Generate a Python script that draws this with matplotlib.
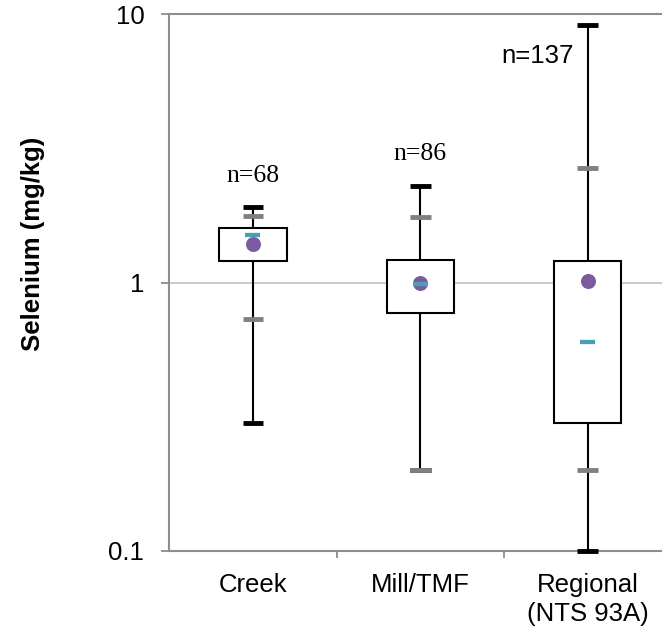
import numpy as np
import matplotlib
matplotlib.use("Agg")
import matplotlib.pyplot as plt
from matplotlib.ticker import NullLocator

plt.rcParams['font.family'] = ['Liberation Sans', 'DejaVu Sans']

# valores (mg/kg)
grupos = ['Creek', 'Mill/TMF', 'Regional\n(NTS 93A)']
minimo = [0.30, 0.20, 0.10]
p10 = [0.735, 0.20, 0.20]
q1 = [1.20, 0.77, 0.30]
mediana = [1.51, 0.985, 0.60]
media = [1.39, 1.00, 1.015]
q3 = [1.60, 1.215, 1.20]
p90 = [1.77, 1.76, 2.67]
maximo = [1.91, 2.30, 9.12]
rotulos_n = ['n=68', 'n=86', 'n=137']
pos_n_x = [0.0, 1.0, 1.70]
pos_n_y = [2.38, 2.87, 6.57]
fonte_n = ['Liberation Serif', 'Liberation Serif', 'Liberation Sans']

cinza_eixo = '#8E8E8E'
cinza_cap = '#808080'
teal = '#4A9FB8'
roxo = '#7A5C9E'

fig = plt.figure(figsize=(6.62, 6.31), dpi=100)
ax = fig.add_axes([169.3/662, 1 - 551/631, 502/662, (551 - 14.3)/631])

x = np.arange(len(grupos))
larg_caixa = 0.403
larg_cap = 0.124
larg_med = 0.09

for i in x:
    ax.vlines(i, minimo[i], maximo[i], color='black', lw=1.5, zorder=2)
    ax.bar(i, q3[i] - q1[i], bottom=q1[i], width=larg_caixa, color='white',
           edgecolor='black', lw=1.5, zorder=3)
    ax.hlines([minimo[i], maximo[i]], i - larg_cap/2, i + larg_cap/2,
              color='black', lw=3.5, zorder=4, clip_on=False)
    ax.hlines([p10[i], p90[i]], i - larg_cap/2, i + larg_cap/2,
              color=cinza_cap, lw=3.5, zorder=5, clip_on=False)
    ax.plot(i, media[i], 'o', color=roxo, ms=10.8, mew=0, zorder=6)
    ax.hlines(mediana[i], i - larg_med/2, i + larg_med/2, color=teal,
              lw=3.1, zorder=7)

for xn, yn, txt, f in zip(pos_n_x, pos_n_y, rotulos_n, fonte_n):
    ax.text(xn, yn, txt, ha='center', va='baseline', fontsize=18.5, family=f)

ax.set_yscale('log')
ax.set_ylim(0.1, 10)
ax.set_xlim(-0.5, 2.5)
ax.set_yticks([0.1, 1, 10])
ax.set_yticklabels(['0.1', '1', '10'], fontsize=18.5)
ax.yaxis.set_minor_locator(NullLocator())
ax.set_xticks(x)
ax.set_xticklabels(grupos, fontsize=18.5, linespacing=1.3)
ax.set_xticks([0.5, 1.5], minor=True)
ax.tick_params(axis='x', which='major', length=0, pad=15.5)
ax.tick_params(axis='x', which='minor', length=5, width=1.3, color=cinza_eixo)
ax.tick_params(axis='y', length=6, width=1.3, color=cinza_eixo, pad=12)

ax.axhline(1, color='#C6C6C6', lw=1.3, zorder=1)
for lado in ['left', 'bottom', 'top']:
    ax.spines[lado].set_color(cinza_eixo)
    ax.spines[lado].set_linewidth(1.5)
ax.spines['right'].set_visible(False)

fig.text(33/662, 1 - 244/631, 'Selenium (mg/kg)', rotation=90, ha='center',
         va='center', fontsize=18.5, fontweight='bold')

fig.savefig('out.png', dpi=100)
